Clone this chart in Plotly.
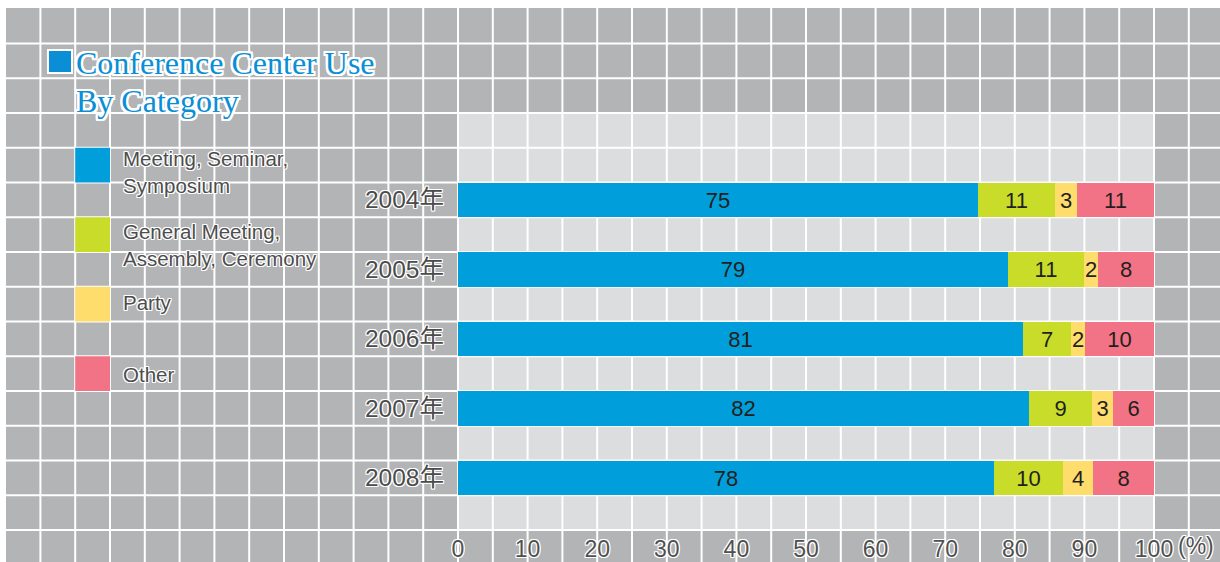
import plotly.graph_objects as go

# ---------------- data ----------------
years = ["2004年", "2005年", "2006年", "2007年", "2008年"]
categories = ["Meeting, Seminar,<br>Symposium", "General Meeting,<br>Assembly, Ceremony", "Party", "Other"]
# bar lengths (%)
meeting = [74.7, 79.0, 81.2, 82.1, 77.0]
general = [11.1, 10.9, 6.9, 9.0, 9.9]
party = [3.1, 2.1, 2.0, 3.0, 4.3]
other = [11.1, 8.0, 9.9, 5.9, 8.8]
# printed labels
meeting_lbl = [75, 79, 81, 82, 78]
general_lbl = [11, 11, 7, 9, 10]
party_lbl = [3, 2, 2, 3, 4]
other_lbl = [11, 8, 10, 6, 8]
x_ticks = [0, 10, 20, 30, 40, 50, 60, 70, 80, 90, 100]

colors = ["#009edb", "#c9dc29", "#ffdd6c", "#f27386"]
series = [meeting, general, party, other]
labels = [meeting_lbl, general_lbl, party_lbl, other_lbl]

# ---------------- layout geometry ----------------
W, H = 1220, 562
ML, MR, MT, MB = 458, 66, 113, 32
PW, PH = W - ML - MR, H - MT - MB
NROWS = 12
bar_rows = [2.5, 4.5, 6.5, 8.5, 10.5]


def px(x):
    return (x - ML) / PW


def py(y):
    return (H - MB - y) / PH


def halo(w, c="#ffffff"):
    offs = []
    for dx in range(-w, w + 1):
        for dy in range(-w, w + 1):
            if dx == 0 and dy == 0:
                continue
            offs.append(f"{dx}px {dy}px 0px {c}")
    return ", ".join(offs)


fig = go.Figure()
for name, vals, lbl, col in zip(categories, series, labels, colors):
    fig.add_trace(go.Bar(
        y=bar_rows, x=vals, orientation="h", name=name,
        marker=dict(color=col, line=dict(width=0)),
        width=1.0,
        text=[str(v) for v in lbl], textposition="inside",
        insidetextanchor="middle", textangle=0, constraintext="none",
        textfont=dict(family="Liberation Sans, Arial, sans-serif", size=22, color="#231f20"),
        hoverinfo="skip", showlegend=False,
    ))

shapes = []
# gray background
shapes.append(dict(type="rect", xref="paper", yref="paper", x0=px(6), x1=px(1225), y0=py(566), y1=py(8),
                   fillcolor="#b3b4b6", line=dict(width=0), layer="below"))
# light plot area
shapes.append(dict(type="rect", xref="paper", yref="paper", x0=0, x1=1, y0=0, y1=1,
                   fillcolor="#dcdddf", line=dict(width=0), layer="below"))
# white grid lines
for k in range(-12, 23):
    xv = k * 0.05
    shapes.append(dict(type="line", xref="paper", yref="paper", x0=xv, x1=xv, y0=py(566), y1=py(8),
                       line=dict(color="#ffffff", width=2), layer="below"))
for m in range(0, 15):
    yv = m / NROWS
    shapes.append(dict(type="line", xref="paper", yref="paper", x0=px(6), x1=px(1225), y0=yv, y1=yv,
                       line=dict(color="#ffffff", width=2), layer="below"))
# title square
shapes.append(dict(type="rect", xref="paper", yref="paper", x0=px(48), x1=px(72), y0=py(73), y1=py(50),
                   fillcolor="#0a8fd6", line=dict(color="#ffffff", width=2), layer="above"))
# legend squares (one grid cell each)
leg_rows = [10, 8, 6, 4]
for r, col in zip(leg_rows, colors):
    shapes.append(dict(type="rect", xref="paper", yref="paper", x0=-0.55, x1=-0.50,
                       y0=r / NROWS, y1=(r + 1) / NROWS,
                       fillcolor=col, line=dict(width=0), layer="above"))

annotations = []
title_font = dict(family="Liberation Serif, Times New Roman, serif", size=32, color="#0a8fd6", shadow=halo(2))
annotations.append(dict(xref="paper", yref="paper", x=px(74), y=py(63), xanchor="left", yanchor="middle",
                        text="Conference Center Use", showarrow=False, font=title_font))
annotations.append(dict(xref="paper", yref="paper", x=px(74), y=py(101), xanchor="left", yanchor="middle",
                        text="By Category", showarrow=False, font=title_font))

leg_font = dict(family="Liberation Sans, Arial, sans-serif", size=20.5, color="#4d4d4d", shadow=halo(1))
leg_text_offsets = [7, 10, -2, 1]
for r, name, off in zip(leg_rows, categories, leg_text_offsets):
    yc = (r + 0.5) / NROWS - off / PH
    annotations.append(dict(xref="paper", yref="paper", x=px(121), y=yc, xanchor="left", yanchor="middle",
                            text=name, align="left", showarrow=False, font=leg_font))

tick_font = dict(family="Liberation Sans, Arial, sans-serif", size=23, color="#505050", shadow=halo(1))
annotations.append(dict(xref="paper", yref="paper", x=px(1176), y=py(546), xanchor="left", yanchor="middle",
                        text="(%)", showarrow=False, font=tick_font))

fig.update_layout(
    width=W, height=H, autosize=False,
    margin=dict(l=ML, r=MR, t=MT, b=MB, pad=0),
    paper_bgcolor="#ffffff", plot_bgcolor="rgba(0,0,0,0)",
    barmode="stack", bargap=0,
    shapes=shapes, annotations=annotations,
    xaxis=dict(range=[0, 100], tickvals=x_ticks, ticktext=[str(v) for v in x_ticks],
               showgrid=False, zeroline=False, showline=False, ticks="", automargin=False,
               ticklabelstandoff=3, tickfont=tick_font, fixedrange=True),
    yaxis=dict(range=[NROWS, 0], tickvals=bar_rows, ticktext=years,
               showgrid=False, zeroline=False, showline=False, ticks="", automargin=False,
               ticklabelstandoff=13,
               tickfont=dict(family="Liberation Sans, Noto Sans CJK JP, Arial, sans-serif", size=24.5,
                             color="#4b4b4b", shadow=halo(1)), fixedrange=True),
    showlegend=False,
)

fig.write_html("out.html", config={"displayModeBar": False},
               post_script="document.body.style.margin='0';")
